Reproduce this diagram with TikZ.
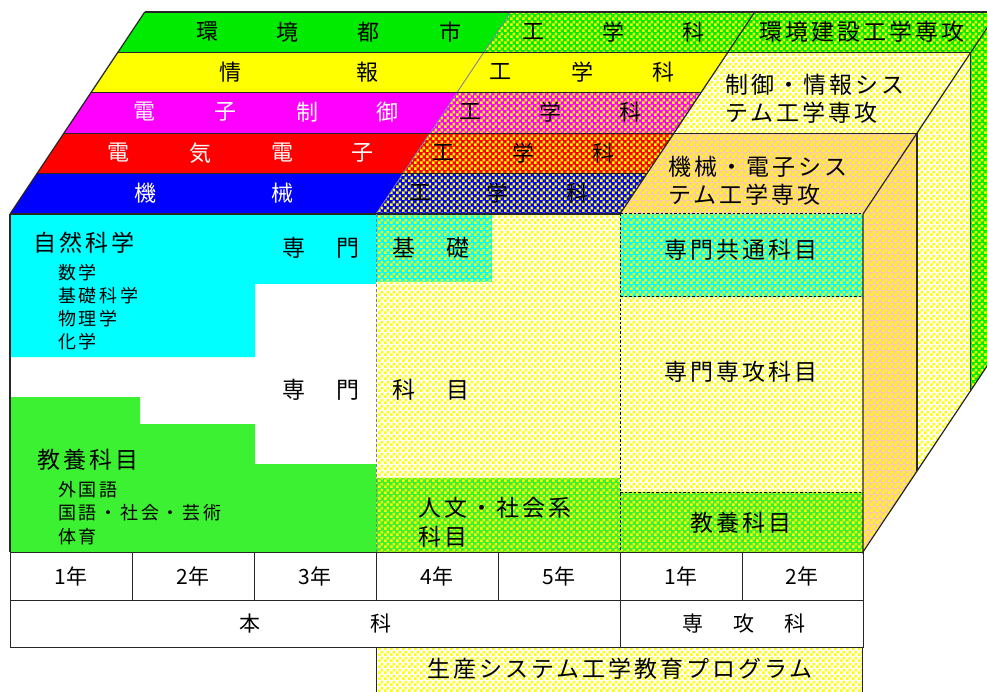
\documentclass[tikz,border=0pt]{standalone}
\usepackage{fontspec}
\setmainfont{Noto Sans CJK JP}
\newfontfamily\jpL[LetterSpace=13]{Noto Sans CJK JP}
\newfontfamily\jpS[LetterSpace=15]{Noto Sans CJK JP}
\usetikzlibrary{patterns.meta}
\definecolor{blueC}{RGB}{0,0,255}
\definecolor{redC}{RGB}{255,0,0}
\definecolor{magC}{RGB}{255,0,255}
\definecolor{yelC}{RGB}{255,255,0}
\definecolor{grnC}{RGB}{0,235,0}
\definecolor{kyoC}{RGB}{60,240,50}
\definecolor{cyanC}{RGB}{0,255,255}
\definecolor{peachC}{RGB}{255,200,170}
\tikzdeclarepattern{
  name=chk, type=uncolored,
  bottom left={(0pt,0pt)}, top right={(6pt,6pt)}, tile size={(6pt,6pt)},
  code={\fill (0pt,0pt) rectangle (3pt,3pt); \fill (3pt,3pt) rectangle (6pt,6pt);}
}
\newcommand\topq[4]{({#1+0.667*(#3)},{214-(#3)}) -- ({#2+0.667*(#3)},{214-(#3)}) -- ({#2+0.667*(#4)},{214-(#4)}) -- ({#1+0.667*(#4)},{214-(#4)}) -- cycle}
\newcommand\sideq[2]{({863+0.667*(#1)},{214-(#1)}) -- ({863+0.667*(#2)},{214-(#2)}) -- ({863+0.667*(#2)},{552-(#2)}) -- ({863+0.667*(#1)},{552-(#1)}) -- cycle}
\newcommand\tpt[2]{({#1+0.667*(#2)},{214-(#2)})}
\tikzset{
  ck/.style={fill=#1, postaction={pattern=chk, pattern color=yelC}},
  edge/.style={draw=black!85, line width=1.2pt},
  dsh/.style={draw=black, line width=1pt, dash pattern=on 2.5pt off 2pt},
  tline/.style={draw=black!85, line width=0.9pt},
  rowtxt/.style={inner sep=0pt, font=\fontsize{22}{24}\selectfont},
  big/.style={inner sep=0pt, font=\jpL\fontsize{23}{26}\selectfont},
  small/.style={inner sep=0pt, font=\jpS\fontsize{18}{20}\selectfont},
  tab/.style={inner sep=0pt, font=\fontsize{21}{24}\selectfont},
}
\begin{document}
\begin{tikzpicture}[x=1pt,y=-1pt]
\useasboundingbox (0,0) rectangle (987,692);
\clip (0,0) rectangle (987,692);
\fill[white] (0,0) rectangle (987,692);
% ---------- top face ----------
\fill[blueC] \topq{10}{376}{0}{40.4};
\path[ck=blueC] \topq{376}{620}{0}{40.4};
\fill[redC] \topq{10}{376}{40.4}{80.8};
\path[ck=redC] \topq{376}{620}{40.4}{80.8};
\fill[magC] \topq{10}{376}{80.8}{121.2};
\path[ck=magC] \topq{376}{620}{80.8}{121.2};
\fill[yelC] \topq{10}{620}{121.2}{161.6};
\fill[grnC] \topq{10}{376}{161.6}{202};
\path[ck=grnC] \topq{376}{620}{161.6}{202};
\path[ck=peachC] \topq{620}{863}{0}{80.8};
\path[ck=white] \topq{620}{863}{80.8}{161.6};
\path[ck=grnC] \topq{620}{863}{161.6}{202};
% ---------- side face ----------
\path[ck=peachC] \sideq{0}{80.8};
\path[ck=white] \sideq{80.8}{161.6};
\path[ck=grnC] \sideq{161.6}{202};
% ---------- front face ----------
\fill[cyanC] (10,214) -- (376,214) -- (376,284) -- (255,284) -- (255,357) -- (10,357) -- cycle;
\fill[kyoC] (10,397) -- (140,397) -- (140,424) -- (255,424) -- (255,464) -- (376,464) -- (376,552) -- (10,552) -- cycle;
\path[ck=white] (376,214) rectangle (620,552);
\path[ck=cyanC] (376,214) rectangle (492,282);
\path[ck=kyoC] (376,478) rectangle (620,552);
\path[ck=white] (620,214) rectangle (863,552);
\path[ck=cyanC] (620,214) rectangle (863,297);
\path[ck=kyoC] (620,492) rectangle (863,552);
\path[ck=white] (376,647) rectangle (862,692);
% ---------- lines on top face ----------
\draw[gray!70!blue!80, line width=0.8pt] \tpt{376}{0} -- \tpt{376}{202};
\foreach \d in {40.4,121.2} \draw[edge] \tpt{10}{\d} -- \tpt{620}{\d};
\foreach \d in {80.8,161.6,202} \draw[edge] \tpt{10}{\d} -- \tpt{863}{\d};
\draw[edge] \tpt{10}{0} -- \tpt{10}{202};
\draw[edge] \tpt{620}{0} -- \tpt{620}{202};
\draw[edge] \tpt{863}{0} -- \tpt{863}{202};
% ---------- side lines ----------
\draw[edge] (863,214) -- (863,552) -- ({863+0.667*202},{552-202});
\draw[edge] ({863+0.667*80.8},{214-80.8}) -- ({863+0.667*80.8},{552-80.8});
\draw[edge] ({863+0.667*161.6},{214-161.6}) -- ({863+0.667*161.6},{552-161.6});
% ---------- front lines ----------
\draw[edge] (10,214) -- (620,214);
\draw[dsh] (620,214) -- (863,214);
\draw[edge] (10,214) -- (10,552);
\draw[gray, line width=0.9pt, dash pattern=on 3pt off 2pt] (376,214) -- (376,552);
\draw[dsh] (620,214) -- (620,552);
\draw[dsh] (620,297) -- (863,297);
\draw[dsh] (620,492) -- (863,492);
% ---------- table ----------
\draw[tline] (10,552) rectangle (863,647);
\draw[tline] (10,600) -- (863,600);
\foreach \x in {132,254,376,498,742} \draw[tline] (\x,552) -- (\x,600);
\draw[tline] (620,552) -- (620,647);
\draw[tline] (376,647) -- (376,692);
\draw[tline] (862,647) -- (862,692);
% ---------- top row labels ----------
\foreach \c/\x [count=\i] in {環/207,境/287,都/368,市/450,工/533,学/613,科/693}
  \node[rowtxt] (ra\i) at (\x,32) {\c};
\foreach \c/\x [count=\i] in {情/230,報/367,工/500,学/582,科/663}
  \node[rowtxt] (rb\i) at (\x,72) {\c};
\foreach \c/\x [count=\i] in {電/144,子/225,制/307,御/387}
  \node[rowtxt, text=white] (rc\i) at (\x,112) {\c};
\foreach \c/\x [count=\i] in {工/470,学/550,科/630}
  \node[rowtxt] (rcc\i) at (\x,112) {\c};
\foreach \c/\x [count=\i] in {電/118,気/200,電/282,子/362}
  \node[rowtxt, text=white] (rd\i) at (\x,153) {\c};
\foreach \c/\x [count=\i] in {工/443,学/523,科/603}
  \node[rowtxt] (rdd\i) at (\x,153) {\c};
\foreach \c/\x [count=\i] in {機/145,械/282}
  \node[rowtxt, text=white] (re\i) at (\x,193) {\c};
\foreach \c/\x [count=\i] in {工/420,学/497,科/577}
  \node[rowtxt] (ree\i) at (\x,193) {\c};
% ---------- course labels on top ----------
\node[big] (kanken) at (862,32) {環境建設工学専攻};
\node[big, anchor=west] (seigyo1) at (725,85) {制御・情報シス};
\node[big, anchor=west] (seigyo2) at (725,113) {テム工学専攻};
\node[big, anchor=west] (kikai1) at (668,167) {機械・電子シス};
\node[big, anchor=west] (kikai2) at (668,195) {テム工学専攻};
% ---------- front labels ----------
\node[big, anchor=west] (shizen) at (33,243) {自然科学};
\node[small, anchor=west] (s1) at (58,273) {数学};
\node[small, anchor=west] (s2) at (58,296) {基礎科学};
\node[small, anchor=west] (s3) at (58,319) {物理学};
\node[small, anchor=west] (s4) at (58,342) {化学};
\node[big, anchor=west] (kyoyo) at (37,460) {教養科目};
\node[small, anchor=west] (k1) at (58,490) {外国語};
\node[small, anchor=west] (k2) at (58,513) {国語・社会・芸術};
\node[small, anchor=west] (k3) at (58,537) {体育};
\node[big] (senmon1) at (321,248) {専\hspace{31pt}門};
\node[big] (kiso) at (431,248) {基\hspace{31pt}礎};
\node[big] (senmon2) at (321,390) {専\hspace{31pt}門};
\node[big] (kamoku) at (431,390) {科\hspace{31pt}目};
\node[big, anchor=west] (jinbun1) at (418,508) {人文・社会系};
\node[big, anchor=west] (jinbun2) at (418,537) {科目};
\node[big] (kyotsu) at (741,250) {専門共通科目};
\node[big] (senko) at (741,372) {専門専攻科目};
\node[big] (kyoyo2) at (741,523) {教養科目};
% ---------- table labels ----------
\foreach \t/\x [count=\i] in {1年/71,2年/193,3年/315,4年/437,5年/559,1年/681,2年/802}
  \node[tab] (y\i) at (\x,576) {\t};
\node[tab] (honka) at (315,624) {本\hspace{110pt}科};
\node[tab] (senkoka) at (744,624) {専\hspace{30pt}攻\hspace{30pt}科};
\node[big] (program) at (620,669) {生産システム工学教育プログラム};
\end{tikzpicture}
\end{document}
